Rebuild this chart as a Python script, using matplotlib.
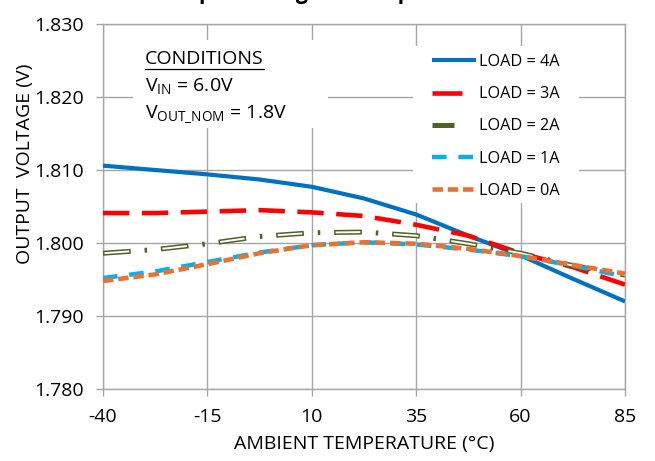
import matplotlib
matplotlib.use("Agg")
import matplotlib.pyplot as plt
from matplotlib.lines import Line2D
from matplotlib.patches import Rectangle
from matplotlib.legend_handler import HandlerTuple

plt.rcParams['font.family'] = ['Open Sans', 'DejaVu Sans']
plt.rcParams['lines.scale_dashes'] = False
plt.rcParams['mathtext.fontset'] = 'custom'
plt.rcParams['mathtext.rm'] = 'Open Sans'

# ---- data ----
temps = [-40, -27.5, -15, -2.5, 10, 22.5, 35, 47.5, 60, 72.5, 85]
load_4a = [1.8106, 1.8100, 1.8094, 1.8087, 1.8077, 1.8061, 1.8039, 1.8010, 1.7983, 1.7951, 1.7920]
load_3a = [1.8041, 1.8041, 1.8043, 1.8045, 1.8042, 1.8037, 1.8025, 1.8010, 1.7986, 1.7967, 1.7943]
load_2a = [1.7986, 1.7991, 1.7999, 1.8009, 1.8014, 1.8015, 1.8010, 1.7999, 1.7986, 1.7969, 1.7956]
load_1a = [1.7952, 1.7961, 1.7974, 1.7987, 1.7997, 1.8001, 1.7998, 1.7991, 1.7982, 1.7969, 1.7954]
load_0a = [1.7948, 1.7957, 1.7971, 1.7986, 1.7997, 1.8001, 1.7999, 1.7992, 1.7982, 1.7970, 1.7958]
labels = ["LOAD = 4A", "LOAD = 3A", "LOAD = 2A", "LOAD = 1A", "LOAD = 0A"]
x_ticks = [-40, -15, 10, 35, 60, 85]
y_ticks = [1.780, 1.790, 1.800, 1.810, 1.820, 1.830]

FS = 14
LEG_FS = 11.7
W, H = 655, 461
fig = plt.figure(figsize=(W / 100, H / 100), dpi=100)
L, R, T, B = 103, 625, 24, 389
ax = fig.add_axes([L / W, 1 - B / H, (R - L) / W, (B - T) / H])

def ax_xy(px, py):
    return (px - L) / (R - L), (B - py) / (B - T)

grid_c = '#A6A6A6'
ax.set_xlim(-40, 85)
ax.set_ylim(1.780, 1.830)
ax.set_xticks(x_ticks)
ax.set_yticks(y_ticks)
ax.set_xticklabels([str(v) for v in x_ticks])
ax.set_yticklabels([f"{v:.3f}" for v in y_ticks])
ax.grid(True, color=grid_c, linewidth=1.0)
ax.set_axisbelow(True)
for s in ax.spines.values():
    s.set_color(grid_c)
    s.set_linewidth(1.0)
ax.tick_params(axis='both', colors=grid_c, labelcolor='black', labelsize=FS,
               length=5, width=1.0, direction='out')
ax.tick_params(axis='x', pad=9)
ax.tick_params(axis='y', pad=9)

# lines
lw_blue, lw_red, lw_olive, lw_cyan, lw_orange = 3.0, 3.3, 3.6, 3.2, 3.3
ax.plot(temps, load_4a, color='#0070C0', lw=lw_blue, solid_capstyle='butt', zorder=3)
ax.plot(temps, load_3a, color='#FF0000', lw=lw_red, linestyle=(0, (19, 9)), dash_capstyle='butt', zorder=3)
ax.plot(temps, load_2a, color='#4F6228', lw=lw_olive, linestyle=(0, (20, 10, 1.8, 10)), dash_capstyle='butt', zorder=3)
ax.plot(temps, load_2a, color='white', lw=1.4, linestyle=(40.7, (17.8, 24.0)), dash_capstyle='butt', zorder=3)
ax.plot(temps, load_1a, color='#00B0F0', lw=lw_cyan, linestyle=(0, (10.5, 8.5)), dash_capstyle='butt', zorder=3)
ax.plot(temps, load_0a, color='#E97132', lw=lw_orange, linestyle=(0, (7.5, 3.5)), dash_capstyle='butt', zorder=3)

# legend proxies
p4 = Line2D([], [], color='#0070C0', lw=lw_blue, solid_capstyle='butt')
p3 = Line2D([], [], color='#FF0000', lw=lw_red, linestyle=(0, (21.6, 40)), dash_capstyle='butt')
p2a = Line2D([], [], color='#4F6228', lw=lw_olive, linestyle=(0, (21.6, 40)), dash_capstyle='butt')
p2b = Line2D([], [], color='white', lw=1.4, linestyle=(60.5, (19.4, 42.2)), dash_capstyle='butt')
p1 = Line2D([], [], color='#00B0F0', lw=lw_cyan, linestyle=(0, (10.5, 8.5)), dash_capstyle='butt')
p0 = Line2D([], [], color='#E97132', lw=lw_orange, linestyle=(0, (7.5, 3.5)), dash_capstyle='butt')

# white areas behind text blocks
x0, y0 = ax_xy(133, 128)
x1, y1 = ax_xy(328, 40)
ax.add_patch(Rectangle((x0, y0), x1 - x0, y1 - y0, transform=ax.transAxes,
                       facecolor='white', edgecolor='none', zorder=1))
x0, y0 = ax_xy(413, 203)
x1, y1 = ax_xy(579, 46)
ax.add_patch(Rectangle((x0, y0), x1 - x0, y1 - y0, transform=ax.transAxes,
                       facecolor='white', edgecolor='none', zorder=1))

# legend
lx, ly = ax_xy(432, 54)
leg = ax.legend([p4, p3, (p2a, p2b), p1, p0], labels, loc='upper left',
                bbox_to_anchor=(lx, ly), bbox_transform=ax.transAxes,
                frameon=False, fontsize=LEG_FS, handlelength=2.71, handletextpad=0.19,
                labelspacing=1.0, borderpad=0, borderaxespad=0,
                handler_map={tuple: HandlerTuple(ndivide=None)})
leg.set_zorder(5)

# conditions text
cx, cy = ax_xy(145, 64)
t_cond = ax.text(cx, cy, "CONDITIONS", transform=ax.transAxes, fontsize=FS,
                 va='baseline', ha='left', zorder=4)
cx, cy = ax_xy(145, 92)
ax.text(cx, cy, r"V$_{\mathregular{IN}}$ = 6.0V", transform=ax.transAxes, fontsize=FS,
        va='baseline', ha='left', zorder=4)
cx, cy = ax_xy(145, 118)
ax.text(cx, cy, r"V$_{\mathregular{OUT\_NOM}}$ = 1.8V", transform=ax.transAxes, fontsize=FS,
        va='baseline', ha='left', zorder=4)

ax.set_xlabel("AMBIENT TEMPERATURE (°C)", fontsize=FS, labelpad=6)
ax.set_ylabel("OUTPUT  VOLTAGE (V)", fontsize=FS)
ax.yaxis.set_label_coords(-0.132, 0.616)

# title (cut off by the top edge as in the source)
fig.text(0.496, 1 + 1.0 / H, "Output Voltage vs Temperature", fontsize=15.2,
         fontweight='bold', ha='center', va='baseline')

# underline CONDITIONS
fig.canvas.draw()
bb = t_cond.get_window_extent(fig.canvas.get_renderer())
inv = ax.transAxes.inverted()
(ux0, uy), (ux1, _) = inv.transform([(bb.x0, bb.y0 - 1.0), (bb.x1, bb.y0 - 1.0)])
ax.add_line(Line2D([ux0, ux1], [uy, uy], transform=ax.transAxes, color='black',
                   lw=0.9, zorder=4))

fig.savefig("out.png", dpi=100)
